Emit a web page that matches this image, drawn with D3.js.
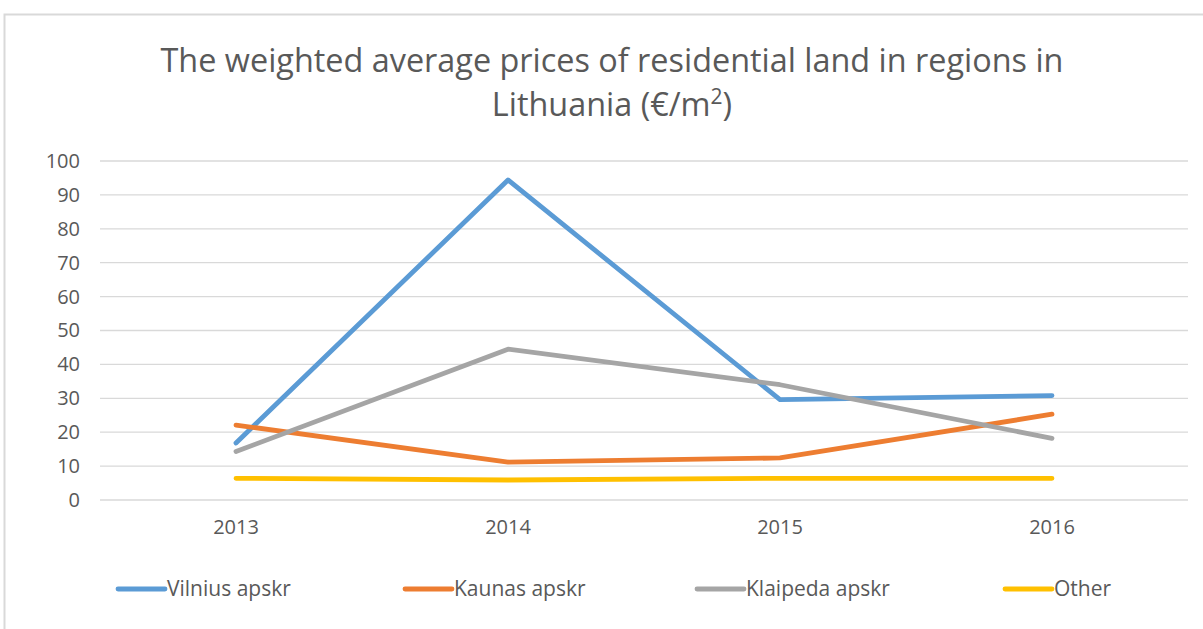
<!DOCTYPE html>
<html>
<head>
<meta charset="utf-8">
<script src="https://cdn.jsdelivr.net/npm/d3@7"></script>
<style>
  body { margin: 0; background: #fff; }
  text { font-family: "Open Sans", sans-serif; fill: #595959; }
</style>
</head>
<body>
<div id="plot"></div>
<script>
// chart data
const years = ["2013", "2014", "2015", "2016"];
const seriesNames = ["Vilnius apskr", "Kaunas apskr", "Klaipeda apskr", "Other"];
const vilnius = [16.8, 94.4, 29.6, 30.8];
const kaunas = [22.1, 11.2, 12.4, 25.3];
const klaipeda = [14.3, 44.5, 34.0, 18.2];
const other = [6.4, 5.9, 6.4, 6.4];
const yTicks = [0, 10, 20, 30, 40, 50, 60, 70, 80, 90, 100];
const colors = ["#5b9bd5", "#ed7d31", "#a5a5a5", "#ffc000"];

const width = 1203, height = 629;
const svg = d3.select("#plot").append("svg")
  .attr("width", width)
  .attr("height", height);

// chart area border
svg.append("rect")
  .attr("x", 4.5).attr("y", 14.5)
  .attr("width", width + 10).attr("height", height + 10)
  .attr("fill", "#fff")
  .attr("stroke", "#d9d9d9")
  .attr("stroke-width", 2);

// title
const title = svg.append("text")
  .attr("text-anchor", "middle")
  .style("font-size", "32.4px");
title.append("tspan").attr("x", 612).attr("y", 72)
  .text("The weighted average prices of residential land in regions in");
const t2 = title.append("tspan").attr("x", 612).attr("y", 116);
t2.append("tspan").text("Lithuania (€/m");
t2.append("tspan").attr("dy", -12).style("font-size", "21px").text("2");
t2.append("tspan").attr("dy", 12).text(")");

// scales
const x = d3.scaleBand().domain(years).range([100, 1188]);
const y = d3.scaleLinear().domain([0, 100]).range([500, 161]);

// gridlines
svg.append("g")
  .selectAll("line")
  .data(yTicks)
  .join("line")
  .attr("x1", 100).attr("x2", 1188)
  .attr("y1", d => y(d)).attr("y2", d => y(d))
  .attr("stroke", "#d9d9d9")
  .attr("stroke-width", 1.3);

// y axis labels
const yAxis = svg.append("g")
  .attr("transform", "translate(80,0)")
  .call(d3.axisLeft(y).tickValues(yTicks).tickSize(0).tickPadding(0));
yAxis.select(".domain").remove();
yAxis.selectAll("text").style("font-size", "20px").attr("fill", "#595959");

// x axis labels
const xAxis = svg.append("g")
  .attr("transform", "translate(0,520)")
  .call(d3.axisBottom(x).tickSize(0).tickPadding(0));
xAxis.select(".domain").remove();
xAxis.selectAll("text").style("font-size", "20px").attr("fill", "#595959");

// lines
const allSeries = [vilnius, kaunas, klaipeda, other];
const line = d3.line()
  .x((d, i) => x(years[i]) + x.bandwidth() / 2)
  .y(d => y(d));

svg.append("g")
  .selectAll("path")
  .data(allSeries)
  .join("path")
  .attr("d", line)
  .attr("fill", "none")
  .attr("stroke", (d, i) => colors[i])
  .attr("stroke-width", 4.8)
  .attr("stroke-linecap", "round")
  .attr("stroke-linejoin", "round");

// legend
const legendX = [118, 405, 697, 1005];
const legend = svg.append("g")
  .selectAll("g")
  .data(seriesNames)
  .join("g")
  .attr("transform", (d, i) => `translate(${legendX[i]},589)`);
legend.append("line")
  .attr("x1", 0).attr("x2", 47)
  .attr("stroke", (d, i) => colors[i])
  .attr("stroke-width", 4.8)
  .attr("stroke-linecap", "round");
legend.append("text")
  .attr("x", 49).attr("dy", "0.35em")
  .style("font-size", "21px")
  .text(d => d);
</script>
</body>
</html>
